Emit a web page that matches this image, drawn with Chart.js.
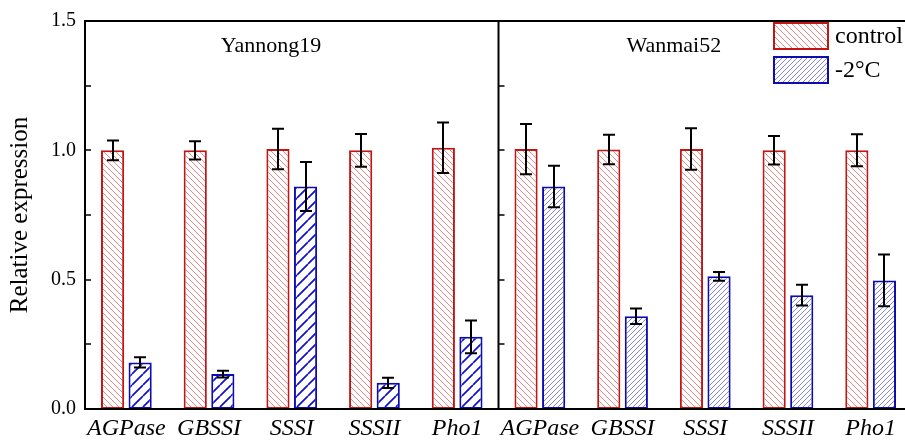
<!DOCTYPE html>
<html>
<head>
<meta charset="utf-8">
<script src="https://cdn.jsdelivr.net/npm/chart.js@4.4.1/dist/chart.umd.min.js"></script>
<style>
html,body{margin:0;padding:0;background:#fff;overflow:hidden;width:905px;height:441px;}
#wrap{width:920px;height:441px;}
</style>
</head>
<body>
<div id="wrap"><canvas id="c" width="920" height="441"></canvas></div>
<script>
const categories = ['AGPase','GBSSI','SSSI','SSSII','Pho1','AGPase','GBSSI','SSSI','SSSII','Pho1'];
const panelTitles = ['Yannong19','Wanmai52'];
const seriesNames = ['control','-2\u00B0C'];
const controlValues = [1.00, 1.00, 1.005, 1.00, 1.01, 1.005, 1.003, 1.005, 1.00, 1.00];
const controlErrors = [0.038, 0.035, 0.078, 0.063, 0.098, 0.097, 0.057, 0.08, 0.055, 0.062];
const coldValues = [0.18, 0.135, 0.86, 0.101, 0.279, 0.86, 0.359, 0.513, 0.44, 0.497];
const coldErrors = [0.02, 0.013, 0.095, 0.02, 0.063, 0.08, 0.03, 0.017, 0.04, 0.1];
const yMajorTicks = [0, 0.5, 1.0, 1.5];
const yMinorTicks = [0.25, 0.75, 1.25];

function hatch(dir, size, color, lw) {
  const c = document.createElement('canvas');
  c.width = size; c.height = size;
  const x = c.getContext('2d');
  x.fillStyle = '#ffffff';
  x.fillRect(0, 0, size, size);
  x.strokeStyle = color;
  x.lineWidth = lw;
  x.beginPath();
  for (let k = -1; k <= 1; k++) {
    if (dir === 'back') { x.moveTo(k * size, 0); x.lineTo(k * size + size, size); }
    else { x.moveTo(k * size, size); x.lineTo(k * size + size, 0); }
  }
  x.stroke();
  return x.createPattern(c, 'repeat');
}
const redPat = hatch('back', 6, '#e08888', 1);
const blueThick = hatch('fwd', 11, '#1010c8', 1.7);
const blueThin = hatch('fwd', 5, '#8686de', 1);
const redBorder = '#c41414';
const blueBorder = '#0c0cb0';
const SERIF = '"Liberation Serif", "Times New Roman", serif';

const framePlugin = {
  id: 'frame',
  afterDatasetsDraw(chart) {
    const ctx = chart.ctx;
    const ys = chart.scales.y;
    const errs = [controlErrors, coldErrors];
    const vals = [controlValues, coldValues];
    ctx.save();
    ctx.strokeStyle = '#000';
    ctx.lineWidth = 2;
    for (let d = 0; d < 2; d++) {
      const meta = chart.getDatasetMeta(d);
      meta.data.forEach((bar, i) => {
        const x = Math.round(bar.x);
        const yt = ys.getPixelForValue(vals[d][i] + errs[d][i]);
        const yb = ys.getPixelForValue(vals[d][i] - errs[d][i]);
        ctx.beginPath();
        ctx.moveTo(x, yt); ctx.lineTo(x, yb);
        ctx.moveTo(x - 6, yt); ctx.lineTo(x + 6, yt);
        ctx.moveTo(x - 6, yb); ctx.lineTo(x + 6, yb);
        ctx.stroke();
      });
    }
    ctx.restore();
  },
  afterDraw(chart) {
    const ctx = chart.ctx;
    const ys = chart.scales.y, xs = chart.scales.x;
    const ca = chart.chartArea;
    const mid = xs.getPixelForValue(4.5);
    ctx.save();
    ctx.strokeStyle = '#000';
    ctx.lineWidth = 2;
    ctx.beginPath();
    ctx.moveTo(ca.left, ca.top); ctx.lineTo(ca.left, ca.bottom);
    ctx.moveTo(ca.left - 1, ca.bottom); ctx.lineTo(ca.right, ca.bottom);
    ctx.moveTo(ca.left - 1, ca.top); ctx.lineTo(ca.right, ca.top);
    ctx.moveTo(ca.right, ca.top); ctx.lineTo(ca.right, ca.bottom);
    ctx.moveTo(mid, ca.top); ctx.lineTo(mid, ca.bottom);
    ctx.stroke();
    ctx.lineWidth = 1.5;
    ctx.beginPath();
    [ca.left, mid].forEach(x0 => {
      yMajorTicks.concat(yMinorTicks).forEach(v => {
        const y = Math.round(ys.getPixelForValue(v));
        ctx.moveTo(x0, y); ctx.lineTo(x0 + 6, y);
      });
    });
    ctx.stroke();
    // panel titles
    ctx.fillStyle = '#000';
    ctx.font = '22px ' + SERIF;
    ctx.textAlign = 'center';
    ctx.textBaseline = 'middle';
    ctx.fillText(panelTitles[0], xs.getPixelForValue(1.75), 46);
    ctx.fillText(panelTitles[1], xs.getPixelForValue(6.62), 46);
    // legend
    const boxes = [[redPat, redBorder], [blueThin, blueBorder]];
    ctx.textAlign = 'left';
    ctx.font = '24px ' + SERIF;
    boxes.forEach((b, i) => {
      const bx = 774, by = 23 + i * 34, bw = 54, bh = 26;
      ctx.fillStyle = b[0];
      ctx.fillRect(bx, by, bw, bh);
      ctx.strokeStyle = b[1];
      ctx.lineWidth = 2;
      ctx.strokeRect(bx, by, bw, bh);
      ctx.fillStyle = '#000';
      ctx.fillText(seriesNames[i], 835, by + bh / 2 + 1);
    });
    ctx.restore();
  }
};

new Chart(document.getElementById('c'), {
  type: 'bar',
  data: {
    labels: categories,
    datasets: [
      {
        label: seriesNames[0],
        data: controlValues,
        backgroundColor: controlValues.map(() => redPat),
        borderColor: redBorder,
        borderWidth: 2,
        borderSkipped: false
      },
      {
        label: seriesNames[1],
        data: coldValues,
        backgroundColor: coldValues.map((v, i) => i < 5 ? blueThick : blueThin),
        borderColor: blueBorder,
        borderWidth: 2,
        borderSkipped: false
      }
    ]
  },
  options: {
    responsive: false,
    animation: false,
    devicePixelRatio: 1,
    categoryPercentage: 0.667,
    barPercentage: 0.84,
    layout: { padding: { top: 20, right: 8, left: 0, bottom: 0 } },
    plugins: { legend: { display: false }, tooltip: { enabled: false } },
    scales: {
      x: {
        type: 'category',
        grid: { display: false, drawTicks: false },
        border: { display: false },
        ticks: {
          color: '#000',
          font: { family: SERIF, size: 24, style: 'italic' },
          padding: 5,
          maxRotation: 0,
          autoSkip: false
        },
        afterFit(s) { s.height = 32; }
      },
      y: {
        min: 0, max: 1.5,
        grid: { display: false, drawTicks: false },
        border: { display: false },
        ticks: {
          stepSize: 0.5,
          color: '#000',
          font: { family: SERIF, size: 20 },
          padding: 9,
          callback: v => Number(v).toFixed(1)
        },
        title: {
          display: true,
          text: 'Relative expression',
          color: '#000',
          font: { family: SERIF, size: 25 },
          padding: { top: 5, bottom: 0 }
        },
        afterFit(s) { s.width = 85; }
      }
    }
  },
  plugins: [framePlugin]
});
</script>
</body>
</html>
